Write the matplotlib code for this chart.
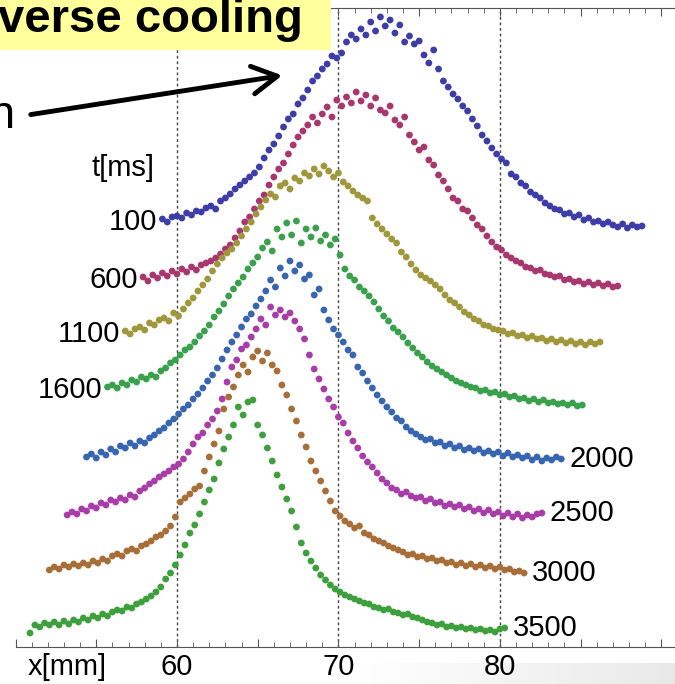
import numpy as np
import matplotlib
matplotlib.use('Agg')
import matplotlib.pyplot as plt
from matplotlib.ticker import MultipleLocator, FixedLocator, FixedFormatter
from matplotlib.patches import Rectangle

plt.rcParams['font.family'] = ['Liberation Sans', 'DejaVu Sans']

# sampling step of the profiles [mm]
step = 0.3

times = ['100', '600', '1100', '1600', '2000', '2500', '3000', '3500']
x_start = [59.1, 57.9, 56.8, 55.7, 54.4, 53.2, 52.1, 50.9]
colors = ['#3d3da8', '#a8376f', '#a0973b', '#39a04c', '#3865b0', '#a83ca8', '#a86e38', '#3da03c']

# profiles (vertically offset)
y_100 = [428, 425, 430, 431, 429, 434, 432, 436, 435, 439,
         441, 438, 446, 449, 453, 458, 462, 466, 470, 474,
         480, 489, 497, 503, 511, 520, 528, 533, 543, 549,
         557, 566, 571, 578, 583, 591, 589, 594, 605, 612,
         608, 618, 612, 625, 616, 630, 621, 627, 614, 622,
         605, 611, 603, 606, 592, 584, 597, 578, 566, 560,
         553, 548, 541, 536, 528, 521, 512, 506, 499, 493,
         488, 484, 473, 470, 464, 461, 455, 452, 449, 444,
         441, 438, 437, 433, 434, 430, 432, 427, 429, 425,
         426, 423, 425, 422, 420, 423, 419, 422, 420, 421]
y_600 = [370, 366, 372, 369, 374, 371, 376, 373, 378, 375,
         380, 377, 382, 384, 386, 389, 393, 398, 402, 409,
         416, 425, 430, 438, 446, 452, 462, 470, 478, 484,
         493, 502, 510, 516, 522, 530, 524, 533, 540, 530,
         547, 541, 550, 544, 555, 546, 552, 541, 549, 537,
         534, 541, 527, 522, 530, 512, 505, 497, 500, 487,
         482, 472, 466, 458, 449, 446, 438, 436, 429, 422,
         418, 411, 405, 400, 397, 392, 389, 386, 384, 380,
         379, 376, 377, 373, 372, 370, 371, 367, 368, 365,
         366, 363, 365, 362, 364, 361, 363, 360, 361]
y_1100 = [316, 313, 318, 320, 317, 324, 322, 327, 329, 326,
          334, 331, 338, 344, 349, 356, 362, 368, 376, 383,
          389, 394, 398, 404, 411, 418, 425, 433, 440, 447,
          453, 450, 461, 464, 458, 469, 466, 474, 471, 478,
          473, 481, 476, 470, 474, 465, 461, 456, 452, 449,
          446, 429, 423, 418, 413, 408, 404, 395, 390, 383,
          377, 372, 369, 366, 362, 358, 352, 347, 344, 340,
          335, 332, 328, 326, 322, 321, 318, 317, 316, 313,
          314, 311, 312, 309, 311, 308, 309, 306, 308, 305,
          307, 304, 306, 303, 305, 302, 305, 303, 305]
y_1600 = [260, 262, 259, 264, 262, 267, 265, 270, 268, 272,
          270, 276, 279, 284, 287, 292, 297, 300, 305, 311,
          316, 322, 330, 336, 343, 351, 358, 364, 370, 378,
          384, 390, 399, 405, 396, 418, 410, 424, 412, 426,
          404, 418, 410, 419, 406, 412, 402, 408, 392, 378,
          371, 367, 360, 356, 351, 345, 338, 331, 326, 319,
          315, 310, 304, 299, 294, 290, 285, 281, 278, 275,
          272, 269, 266, 264, 262, 260, 259, 256, 257, 254,
          255, 252, 253, 250, 251, 248, 249, 246, 248, 245,
          247, 244, 245, 243, 244, 242, 244, 241, 242]
y_2000 = [190, 193, 189, 195, 192, 198, 195, 201, 199, 204,
          201, 206, 204, 209, 212, 216, 219, 224, 228, 233,
          238, 242, 248, 253, 259, 266, 272, 279, 288, 297,
          305, 312, 320, 328, 333, 341, 348, 356, 367, 360,
          379, 371, 386, 376, 382, 368, 372, 352, 358, 337,
          327, 318, 312, 305, 297, 292, 280, 274, 266, 259,
          252, 246, 240, 235, 229, 226, 220, 216, 213, 210,
          207, 208, 204, 205, 201, 203, 199, 201, 197, 199,
          196, 198, 194, 196, 193, 195, 191, 194, 190, 192,
          189, 191, 187, 190, 186, 189, 187, 190, 188]
y_2500 = [132, 135, 133, 138, 136, 141, 139, 144, 142, 147,
          145, 149, 147, 152, 150, 156, 159, 163, 166, 170,
          173, 176, 180, 183, 188, 195, 203, 210, 214, 222,
          228, 236, 248, 265, 280, 287, 298, 302, 310, 318,
          328, 322, 340, 332, 337, 330, 334, 326, 318, 308,
          292, 278, 268, 258, 248, 240, 230, 224, 214, 206,
          199, 191, 185, 180, 174, 168, 164, 159, 157, 153,
          155, 151, 149, 150, 146, 148, 144, 145, 141, 143,
          140, 142, 138, 140, 136, 138, 134, 137, 133, 135,
          131, 134, 130, 133, 129, 132, 130, 133, 134]
y_3000 = [77, 80, 78, 82, 80, 83, 81, 84, 82, 86,
          84, 88, 86, 91, 93, 91, 96, 98, 96, 101,
          103, 106, 110, 112, 116, 121, 130, 145, 149, 153,
          158, 161, 176, 190, 203, 216, 238, 250, 260, 272,
          282, 275, 290, 296, 286, 294, 282, 276, 262, 252,
          238, 226, 212, 200, 186, 176, 166, 156, 146, 136,
          131, 126, 123, 119, 121, 114, 112, 108, 106, 104,
          101, 99, 97, 95, 92, 93, 90, 91, 88, 89,
          86, 87, 84, 85, 82, 84, 81, 83, 80, 82,
          79, 81, 78, 80, 77, 78, 75, 76, 74]
y_3500 = [14, 22, 20, 24, 22, 25, 22, 26, 23, 27,
          25, 29, 27, 31, 29, 33, 31, 35, 37, 36,
          40, 39, 43, 45, 48, 51, 55, 60, 68, 74,
          82, 92, 102, 114, 122, 133, 145, 157, 168, 184,
          198, 210, 222, 240, 232, 245, 247, 222, 212, 199,
          186, 172, 160, 148, 136, 120, 104, 94, 86, 79,
          72, 67, 62, 58, 55, 52, 50, 48, 46, 44,
          43, 40, 39, 37, 38, 35, 34, 32, 33, 30,
          29, 27, 25, 24, 22, 23, 20, 21, 19, 20,
          18, 19, 17, 18, 16, 17, 15, 18, 19]
profiles = [y_100, y_600, y_1100, y_1600, y_2000, y_2500, y_3000, y_3500]

W, H = 675, 684
fig = plt.figure(figsize=(W / 100, H / 100), dpi=100)
ax = fig.add_axes([15.5 / W, 37 / H, 662 / W, 639 / H])
ax.set_xlim(50, 91)
ax.set_ylim(0, 639)

for t, x0, c, y in zip(times, x_start, colors, profiles):
    x = x0 + step * np.arange(len(y))
    ax.scatter(x, y, s=24, color=c, edgecolors='none', zorder=3)
    if int(t) < 2000:
        ax.annotate(t, (x[0], y[0]), xytext=(-5, -3), textcoords='offset pixels',
                    ha='right', va='center', fontsize=21)
    else:
        ax.annotate(t, (x[-1], y[-1]), xytext=(8, 0), textcoords='offset pixels',
                    ha='left', va='center', fontsize=21)

for g in [60, 70, 80]:
    ax.axvline(g, color='#444444', lw=1, ls=(0, (2, 2)), zorder=1)

ax.xaxis.set_major_locator(FixedLocator([50, 55, 60, 65, 70, 75, 80, 85, 90]))
ax.xaxis.set_major_formatter(FixedFormatter(['', '', '60', '', '70', '', '80', '', '']))
ax.xaxis.set_minor_locator(MultipleLocator(1))
ax.tick_params(axis='x', which='both', direction='in', top=True, colors='#555555',
               labelcolor='black', labelsize=21, pad=4)
ax.tick_params(axis='x', which='major', length=6)
ax.tick_params(axis='x', which='minor', length=3.5)
ax.set_yticks([])
for s in ['left', 'right']:
    ax.spines[s].set_visible(False)
for s in ['top', 'bottom']:
    ax.spines[s].set_color('#555555')

fig.text(67 / W, 1 - 667 / H, 'x[mm]', ha='center', va='center', fontsize=21)
fig.text(123 / W, 1 - 168 / H, 't[ms]', ha='center', va='center', fontsize=21)

# slide pieces around the plot
band = fig.add_axes([340 / W, 0, 335 / W, 21 / H], zorder=-1)
band.imshow(np.linspace(1.0, 0.91, 100)[None, :], cmap='gray', vmin=0, vmax=1,
            aspect='auto', extent=(0, 1, 0, 1))
band.axis('off')
fig.patches.append(Rectangle((0, 1 - 50 / H), 331 / W, 50 / H, transform=fig.transFigure,
                             facecolor='#ffff9c', edgecolor='none', zorder=5))
fig.text(-2 / W, 1 - 32 / H, 'verse cooling', ha='left', va='baseline', fontsize=34,
         fontweight='bold', zorder=6)
fig.text(15 / W, 1 - 128 / H, 'n', ha='right', va='baseline', fontsize=34)
ax.annotate('', xy=(285, H - 75), xycoords='figure pixels', xytext=(28, H - 115),
            textcoords='figure pixels', annotation_clip=False,
            arrowprops=dict(arrowstyle='->,head_length=0.9,head_width=0.5',
                            mutation_scale=20, lw=3.5, color='black'))

fig.savefig('out.png', dpi=100)
